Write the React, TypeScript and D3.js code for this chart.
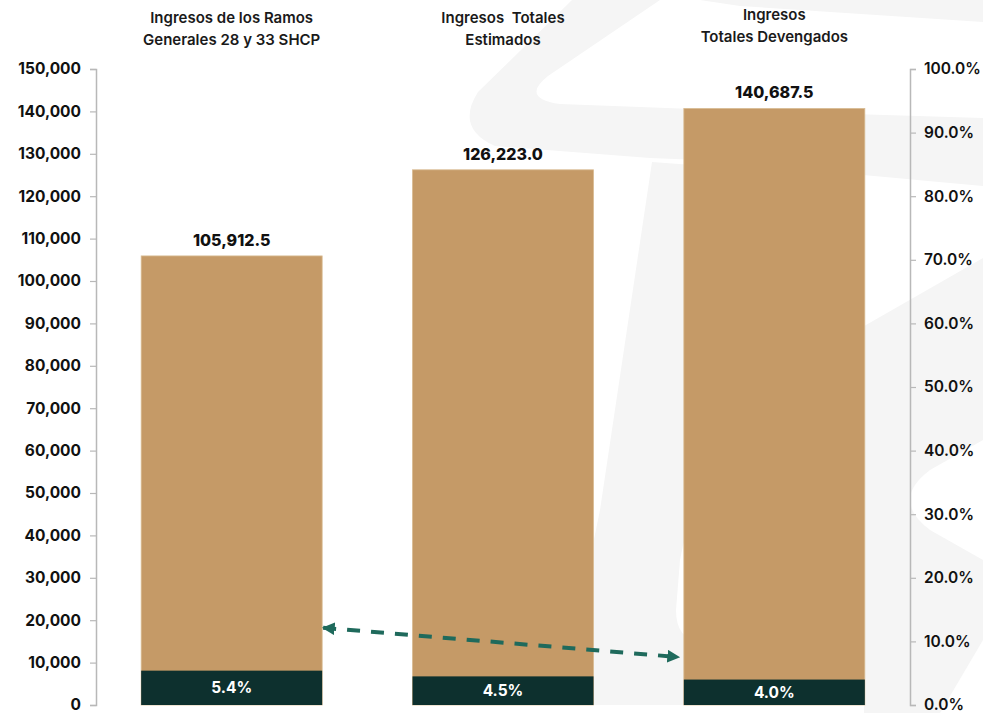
import React, { useEffect, useRef } from 'react';
import * as d3 from 'd3';

// chart data
const categories = [
    ["Ingresos de los Ramos", "Generales 28 y 33 SHCP"],
    ["Ingresos  Totales", "Estimados"],
    ["Ingresos", "Totales Devengados"],
];
const totals = [105912.5, 126223.0, 140687.5];
const shares = [0.054, 0.045, 0.040];
const leftTicks = [0, 10000, 20000, 30000, 40000, 50000, 60000, 70000, 80000, 90000, 100000, 110000, 120000, 130000, 140000, 150000];
const rightTicks = [0, 0.1, 0.2, 0.3, 0.4, 0.5, 0.6, 0.7, 0.8, 0.9, 1.0];
// dashed arrow annotation: from bar 1 (left scale value) to bar 3
const arrowFrom = { cat: 0, value: 18200 };
const arrowTo = { cat: 2, value: 11300 };

const W = 983;
const H = 713;
const TAN = "#c59a67";
const DARK = "#0d302e";
const TEAL = "#1f6a5c";
const FONT = "Inter, 'Noto Sans', sans-serif";

const App: React.FC = () => {
    const ref = useRef<SVGSVGElement>(null);

    useEffect(() => {
        const svg = d3.select(ref.current);
        svg.selectAll("*").remove();

        const x0 = 96, x1 = 910, yTop = 69, yBot = 705;

        // watermark (faint logo behind the chart)
        const wm = svg.append("g").attr("fill", "#f5f5f5");
        wm.append("path").attr("d",
            "M 572 0 L 478 92 Q 455 128 495 146 L 650 158 L 700 160 L 983 186 L 983 118 L 720 110 L 560 104 Q 520 98 548 76 L 660 0 Z");
        wm.append("path").attr("d",
            "M 983 0 L 983 22 L 740 6 L 700 0 Z");
        wm.append("path").attr("d",
            "M 652 162 L 760 170 Q 800 180 785 215 L 700 420 L 983 258 L 983 330 L 735 470 Q 690 500 680 560 L 676 610 Q 676 640 700 640 L 690 705 L 560 705 L 600 510 Z");
        wm.append("path").attr("d",
            "M 864 330 L 983 260 L 983 440 L 930 470 Q 890 500 930 530 L 983 560 L 983 640 L 940 713 L 864 713 Z");

        const x = d3.scaleBand<number>()
            .domain(d3.range(categories.length))
            .range([x0, x1])
            .paddingInner(0.333)
            .paddingOuter(0.1665);

        const y = d3.scaleLinear().domain([0, 150000]).range([yBot, yTop]);
        const yR = d3.scaleLinear().domain([0, 1]).range([yBot, yTop]);

        // left axis
        const gl = svg.append("g")
            .attr("transform", `translate(${x0},0)`)
            .call(d3.axisLeft(y).tickValues(leftTicks).tickSize(6).tickPadding(9)
                .tickFormat((d) => d3.format(",")(d as number)));
        gl.select(".domain").attr("stroke", "#b8b8b8").attr("stroke-width", 1.5);
        gl.selectAll(".tick line").attr("stroke", "#b8b8b8").attr("stroke-width", 1.2);
        gl.selectAll(".tick text")
            .attr("fill", "#111")
            .style("font-family", FONT)
            .style("font-size", "15.5px")
            .style("font-weight", 700);

        // right axis
        const gr = svg.append("g")
            .attr("transform", `translate(${x1},0)`)
            .call(d3.axisRight(yR).tickValues(rightTicks).tickSize(6).tickPadding(8)
                .tickFormat((d) => d3.format(".1%")(d as number)));
        gr.select(".domain").attr("stroke", "#b8b8b8").attr("stroke-width", 1.5);
        gr.selectAll(".tick line").attr("stroke", "#b8b8b8").attr("stroke-width", 1.2);
        gr.selectAll(".tick text")
            .attr("fill", "#111")
            .style("font-family", FONT)
            .style("font-size", "15.5px")
            .style("font-weight", 600);

        const idx = d3.range(categories.length);

        // tan bars (total)
        svg.append("g").selectAll("rect.total")
            .data(idx).enter()
            .append("rect")
            .attr("x", (i) => x(i)!)
            .attr("width", x.bandwidth())
            .attr("y", (i) => y(totals[i]))
            .attr("height", (i) => yBot - y(totals[i]))
            .attr("fill", TAN)
            .attr("stroke", "#d8bb92")
            .attr("stroke-width", 0.8);

        // dark share segment (right axis)
        svg.append("g").selectAll("rect.share")
            .data(idx).enter()
            .append("rect")
            .attr("x", (i) => x(i)!)
            .attr("width", x.bandwidth())
            .attr("y", (i) => yR(shares[i]))
            .attr("height", (i) => yBot - yR(shares[i]))
            .attr("fill", DARK);

        // share labels
        svg.append("g").selectAll("text")
            .data(idx).enter()
            .append("text")
            .attr("x", (i) => x(i)! + x.bandwidth() / 2)
            .attr("y", (i) => (yR(shares[i]) + yBot) / 2 + 5.5)
            .attr("text-anchor", "middle")
            .attr("fill", "#fff")
            .style("font-family", FONT)
            .style("font-size", "15.5px")
            .style("font-weight", 700)
            .text((i) => d3.format(".1%")(shares[i]));

        // total labels
        svg.append("g").selectAll("text")
            .data(idx).enter()
            .append("text")
            .attr("x", (i) => x(i)! + x.bandwidth() / 2)
            .attr("y", (i) => y(totals[i]) - 10)
            .attr("text-anchor", "middle")
            .attr("fill", "#111")
            .style("font-family", FONT)
            .style("font-size", "16px")
            .style("font-weight", 800)
            .text((i) => d3.format(",.1f")(totals[i]));

        // category titles on top
        const titleTop = [18, 18, 15];
        idx.forEach((i) => {
            const t = svg.append("text")
                .attr("text-anchor", "middle")
                .attr("fill", "#1a1a1a")
                .style("font-family", FONT)
                .style("font-size", "15px")
                .style("font-weight", 600)
                .style("white-space", "pre");
            categories[i].forEach((line, k) => {
                t.append("tspan")
                    .attr("x", x(i)! + x.bandwidth() / 2)
                    .attr("y", titleTop[i] + 5 + k * 21.5)
                    .text(line);
            });
        });

        // dashed double arrow
        const ax1 = x(arrowFrom.cat)! + x.bandwidth() + 1;
        const ay1 = y(arrowFrom.value);
        const ax2 = x(arrowTo.cat)! - 5;
        const ay2 = y(arrowTo.value);
        const defs = svg.append("defs");
        defs.append("marker")
            .attr("id", "ah")
            .attr("viewBox", "0 0 10 10")
            .attr("refX", 9)
            .attr("refY", 5)
            .attr("markerWidth", 3.2)
            .attr("markerHeight", 3.2)
            .attr("markerUnits", "strokeWidth")
            .attr("orient", "auto-start-reverse")
            .append("path")
            .attr("d", "M0,0 L10,5 L0,10 Z")
            .attr("fill", TEAL);
        svg.append("line")
            .attr("x1", ax1)
            .attr("y1", ay1)
            .attr("x2", ax2)
            .attr("y2", ay2)
            .attr("stroke", TEAL)
            .attr("stroke-width", 4)
            .attr("stroke-dasharray", "13 11")
            .attr("marker-start", "url(#ah)")
            .attr("marker-end", "url(#ah)");
    }, []);

    return (
        <svg ref={ref} width={W} height={H}
            style={{ position: "absolute", left: 0, top: 0, background: "#fff" }} />
    );
};

export default App;
